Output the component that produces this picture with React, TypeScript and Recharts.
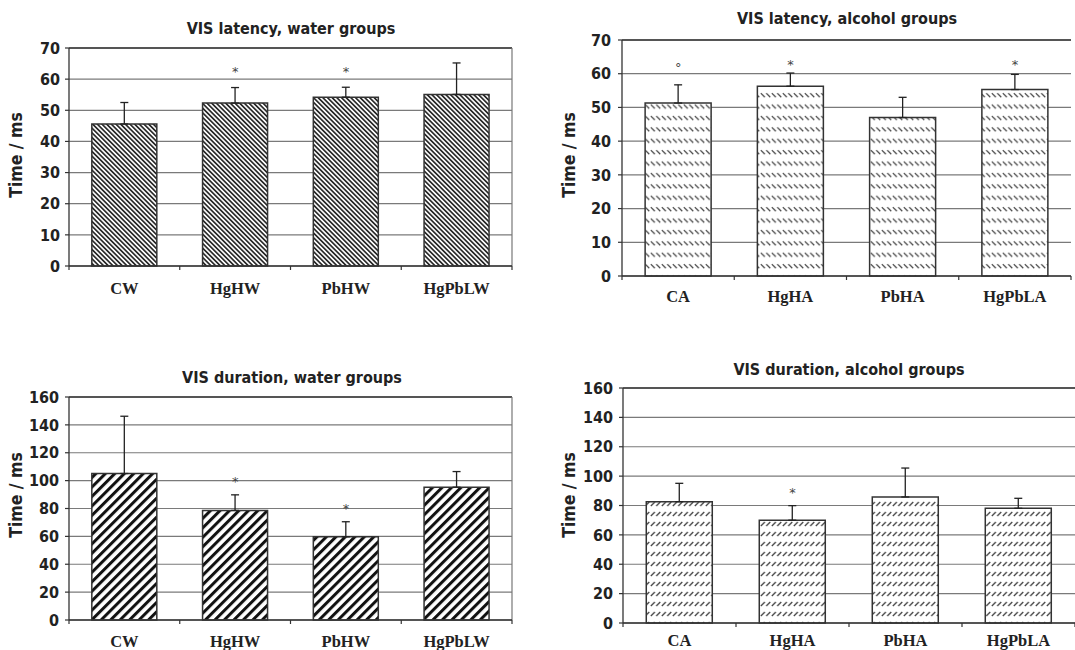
import React from 'react';
import {
  BarChart,
  Bar,
  XAxis,
  YAxis,
  CartesianGrid,
  ErrorBar,
  ReferenceDot,
  ReferenceLine,
} from 'recharts';

// groups
const waterGroups = ['CW', 'HgHW', 'PbHW', 'HgPbLW'];
const alcoholGroups = ['CA', 'HgHA', 'PbHA', 'HgPbLA'];

// axis ticks
const latencyTicks = [0, 10, 20, 30, 40, 50, 60, 70];
const durationTicks = [0, 20, 40, 60, 80, 100, 120, 140, 160];

// VIS latency, water groups
const latencyWaterMean = [45.6, 52.3, 54.2, 55.1];
const latencyWaterErr = [6.9, 5.0, 3.2, 10.1];
const latencyWaterMarks = ['', '*', '*', ''];
const latencyWaterMarkAt = [0, 62.4, 62.4, 0];

// VIS latency, alcohol groups
const latencyAlcoholMean = [51.3, 56.3, 47.0, 55.3];
const latencyAlcoholErr = [5.4, 3.9, 6.0, 4.5];
const latencyAlcoholMarks = ['°', '*', '', '*'];
const latencyAlcoholMarkAt = [61.8, 62.9, 0, 62.9];

// VIS duration, water groups
const durationWaterMean = [105.1, 78.6, 59.7, 95.3];
const durationWaterErr = [41.1, 11.2, 10.8, 11.2];
const durationWaterMarks = ['', '*', '*', ''];
const durationWaterMarkAt = [0, 99.2, 80.0, 0];

// VIS duration, alcohol groups
const durationAlcoholMean = [82.6, 70.0, 85.8, 78.1];
const durationAlcoholErr = [12.5, 9.9, 19.7, 6.8];
const durationAlcoholMarks = ['', '*', '', ''];
const durationAlcoholMarkAt = [0, 88.6, 0, 0];

const TICK_FONT = '"DejaVu Sans Condensed", "DejaVu Sans", Verdana, sans-serif';
const CAT_FONT = '"Liberation Serif", "Times New Roman", serif';

const CategoryTick = (props: any) => {
  const { x, y, payload, index, visibleTicksCount, labelDy } = props;
  const half = payload.offset ?? 0;
  const axisY = y - 6;
  return (
    <g>
      <line x1={x - half} y1={axisY} x2={x - half} y2={axisY + 4} stroke="#333" strokeWidth={1.2} />
      {index === visibleTicksCount - 1 && (
        <line x1={x + half} y1={axisY} x2={x + half} y2={axisY + 4} stroke="#333" strokeWidth={1.2} />
      )}
      <text
        x={x}
        y={y + labelDy}
        textAnchor="middle"
        dominantBaseline="central"
        fontFamily={CAT_FONT}
        fontWeight="bold"
        fontSize={16.5}
        fill="#222"
      >
        {payload.value}
      </text>
    </g>
  );
};

type PanelProps = {
  title: string;
  categories: string[];
  mean: number[];
  err: number[];
  marks: string[];
  markAt: number[];
  ticks: number[];
  fill: string;
  rightBorder: boolean;
  left: number;
  top: number;
  width: number;
  height: number;
  margin: { top: number; right: number; bottom: number; left: number };
  yAxisWidth: number;
  tickMargin: number;
  xAxisHeight: number;
  labelDy: number;
  titleX: number;
  titleY: number;
  yLabelX: number;
  yLabelY: number;
};

const Panel = (p: PanelProps) => {
  const rows = p.categories.map((name, i) => ({
    name,
    mean: p.mean[i],
    err: [0, p.err[i]],
  }));
  const max = p.ticks[p.ticks.length - 1];
  return (
    <>
      <div
        style={{
          position: 'absolute',
          left: p.titleX - 200,
          top: p.titleY - 11,
          width: 400,
          height: 22,
          lineHeight: '22px',
          textAlign: 'center',
          fontFamily: TICK_FONT,
          fontWeight: 'bold',
          fontSize: 16,
          color: '#222',
        }}
      >
        {p.title}
      </div>
      <div
        style={{
          position: 'absolute',
          left: p.yLabelX - 60,
          top: p.yLabelY - 11,
          width: 120,
          height: 22,
          lineHeight: '22px',
          textAlign: 'center',
          transform: 'rotate(-90deg)',
          fontFamily: TICK_FONT,
          fontWeight: 'bold',
          fontSize: 17.5,
          color: '#222',
        }}
      >
        Time / ms
      </div>
      <div style={{ position: 'absolute', left: p.left, top: p.top }}>
        <BarChart
          width={p.width}
          height={p.height}
          data={rows}
          margin={p.margin}
          barCategoryGap="20.6%"
        >
          <CartesianGrid vertical={false} stroke="#7a7a7a" strokeWidth={1.2} />
          <XAxis
            dataKey="name"
            height={p.xAxisHeight}
            tickLine={false}
            tickSize={4}
            axisLine={{ stroke: '#333', strokeWidth: 1.3 }}
            interval={0}
            tick={<CategoryTick labelDy={p.labelDy} />}
          />
          <YAxis
            width={p.yAxisWidth}
            domain={[0, max]}
            ticks={p.ticks}
            interval={0}
            tickSize={4}
            tickMargin={p.tickMargin}
            axisLine={{ stroke: '#333', strokeWidth: 1.3 }}
            tickLine={{ stroke: '#333', strokeWidth: 1.2 }}
            tick={{ fill: '#222', fontFamily: TICK_FONT, fontWeight: 'bold', fontSize: 16 }}
          />
          <ReferenceLine y={max} stroke="#333" strokeWidth={1.3} />
          {p.rightBorder && (
            <ReferenceLine
              x={p.categories[p.categories.length - 1]}
              position="end"
              stroke="#777"
              strokeWidth={1.2}
            />
          )}
          <Bar
            dataKey="mean"
            fill={p.fill}
            stroke="#333"
            strokeWidth={1.5}
            isAnimationActive={false}
          >
            <ErrorBar
              dataKey="err"
              direction="y"
              width={4}
              stroke="#222"
              strokeWidth={1.3}
              isAnimationActive={false}
            />
          </Bar>
          {p.marks.map((m, i) =>
            m ? (
              <ReferenceDot
                key={p.categories[i]}
                x={p.categories[i]}
                y={p.markAt[i]}
                r={0}
                fill="none"
                stroke="none"
                label={{
                  value: m,
                  position: 'center',
                  fill: '#444',
                  fontSize: 13,
                  fontFamily: '"DejaVu Sans", sans-serif',
                }}
              />
            ) : null
          )}
        </BarChart>
      </div>
    </>
  );
};

export default function App() {
  return (
    <div
      style={{
        position: 'absolute',
        left: 0,
        top: 0,
        width: 1075,
        height: 650,
        background: '#fff',
        overflow: 'hidden',
      }}
    >
      <svg width={0} height={0} style={{ position: 'absolute' }}>
        <defs>
          <pattern id="latW" patternUnits="userSpaceOnUse" width={3.3} height={10} patternTransform="rotate(-45)">
            <rect width={3.3} height={10} fill="#fff" />
            <rect width={1.7} height={10} fill="#2a2a2a" />
          </pattern>
          <pattern id="durW" patternUnits="userSpaceOnUse" width={6.7} height={10} patternTransform="rotate(45)">
            <rect width={6.7} height={10} fill="#fff" />
            <rect width={3} height={10} fill="#111" />
          </pattern>
          <pattern id="latA" patternUnits="userSpaceOnUse" width={5.5} height={11.4}>
            <rect width={5.5} height={11.4} fill="#fff" />
            <line x1={0.8} y1={2} x2={4.8} y2={6} stroke="#3a3a3a" strokeWidth={1.2} />
          </pattern>
          <pattern id="durA" patternUnits="userSpaceOnUse" width={5.5} height={10}>
            <rect width={5.5} height={10} fill="#fff" />
            <line x1={0.8} y1={6} x2={4.8} y2={2} stroke="#3a3a3a" strokeWidth={1.2} />
          </pattern>
        </defs>
      </svg>

      <Panel
        title="VIS latency, water groups"
        categories={waterGroups}
        mean={latencyWaterMean}
        err={latencyWaterErr}
        marks={latencyWaterMarks}
        markAt={latencyWaterMarkAt}
        ticks={latencyTicks}
        fill="url(#latW)"
        rightBorder
        left={0}
        top={0}
        width={520}
        height={310}
        margin={{ top: 48, right: 8, bottom: 20, left: 0 }}
        yAxisWidth={69}
        tickMargin={5}
        xAxisHeight={24}
        labelDy={16}
        titleX={291}
        titleY={29}
        yLabelX={16}
        yLabelY={155}
      />
      <Panel
        title="VIS latency, alcohol groups"
        categories={alcoholGroups}
        mean={latencyAlcoholMean}
        err={latencyAlcoholErr}
        marks={latencyAlcoholMarks}
        markAt={latencyAlcoholMarkAt}
        ticks={latencyTicks}
        fill="url(#latA)"
        rightBorder={false}
        left={540}
        top={0}
        width={535}
        height={310}
        margin={{ top: 40, right: 4, bottom: 10, left: 0 }}
        yAxisWidth={82}
        tickMargin={7}
        xAxisHeight={24}
        labelDy={14}
        titleX={847}
        titleY={19}
        yLabelX={569}
        yLabelY={155}
      />
      <Panel
        title="VIS duration, water groups"
        categories={waterGroups}
        mean={durationWaterMean}
        err={durationWaterErr}
        marks={durationWaterMarks}
        markAt={durationWaterMarkAt}
        ticks={durationTicks}
        fill="url(#durW)"
        rightBorder
        left={0}
        top={340}
        width={520}
        height={310}
        margin={{ top: 57, right: 8, bottom: 6, left: 0 }}
        yAxisWidth={69}
        tickMargin={6}
        xAxisHeight={24}
        labelDy={15.5}
        titleX={292}
        titleY={378}
        yLabelX={16}
        yLabelY={495}
      />
      <Panel
        title="VIS duration, alcohol groups"
        categories={alcoholGroups}
        mean={durationAlcoholMean}
        err={durationAlcoholErr}
        marks={durationAlcoholMarks}
        markAt={durationAlcoholMarkAt}
        ticks={durationTicks}
        fill="url(#durA)"
        rightBorder={false}
        left={540}
        top={340}
        width={535}
        height={310}
        margin={{ top: 48, right: 0, bottom: 3, left: 0 }}
        yAxisWidth={83}
        tickMargin={6}
        xAxisHeight={24}
        labelDy={11}
        titleX={849}
        titleY={370}
        yLabelX={569}
        yLabelY={495}
      />
    </div>
  );
}
